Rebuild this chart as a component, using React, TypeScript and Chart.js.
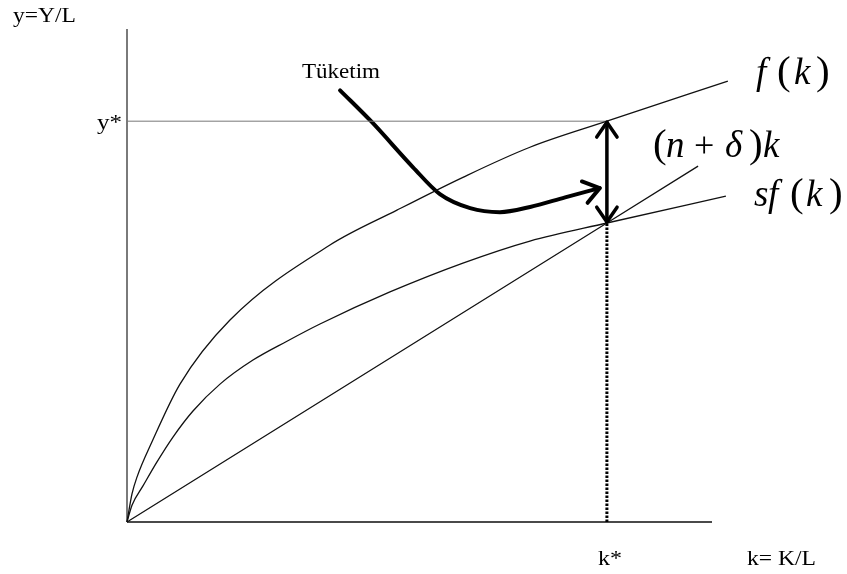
import React, { useEffect, useRef } from "react";
import { Chart, registerables } from "chart.js";

Chart.register(...registerables);

// Solow model: capital per worker k = K/L, output per worker y = Y/L (steady state k* = 10, y* = 10)
const kOutput = [0, 0.104, 0.208, 0.521, 1.104, 2.146, 4.229, 5.625, 7.0, 8.396, 10.0, 12.52];
const yOutput = [0, 0.7, 1.12, 2.0, 3.44, 5.04, 6.91, 7.78, 8.6, 9.35, 10.0, 11.0];

const kSaving = [0, 0.104, 0.333, 0.625, 0.958, 1.375, 1.938, 2.625, 3.333, 4.021, 5.479, 7.0, 8.396, 10.0, 12.479];
const ySaving = [0, 0.42, 0.9, 1.5, 2.12, 2.77, 3.44, 4.04, 4.51, 4.94, 5.74, 6.46, 7.01, 7.46, 8.13];

const kBreakEven = [0, 10, 11.9];
const yBreakEven = [0, 7.46, 8.88];

const kStar = 10;
const yStar = 10;
const investStar = 7.46;

// curved pointer from the "Tüketim" label to the consumption gap
const kPointer = [4.44, 5.1, 5.96, 6.52, 7.15, 7.77, 8.4, 9.13, 9.85];
const yPointer = [10.77, 9.98, 8.85, 8.18, 7.83, 7.73, 7.86, 8.1, 8.33];

const kMax = 12.19;
const yMax = 12.3;

const yAxisTitle = "y=Y/L";
const xAxisTitle = "k= K/L";
const yStarLabel = "y*";
const kStarLabel = "k*";
const pointerLabel = "Tüketim";

const pts = (xs: number[], ys: number[]) => xs.map((x, i) => ({ x, y: ys[i] }));

const SERIF = `"Liberation Serif", "Times New Roman", Times, serif`;

function fitText(ctx: CanvasRenderingContext2D, s: string, x: number, y: number, font: string, w: number) {
  ctx.font = font;
  const m = ctx.measureText(s).width;
  ctx.save();
  ctx.translate(x, y);
  ctx.scale(w / m, 1);
  ctx.fillText(s, 0, 0);
  ctx.restore();
}

function arrowHead(ctx: CanvasRenderingContext2D, tx: number, ty: number, angle: number, len: number, spread: number) {
  ctx.beginPath();
  ctx.moveTo(tx - len * Math.cos(angle - spread), ty - len * Math.sin(angle - spread));
  ctx.lineTo(tx, ty);
  ctx.lineTo(tx - len * Math.cos(angle + spread), ty - len * Math.sin(angle + spread));
  ctx.stroke();
}

const diagramPlugin = {
  id: "solowDiagram",
  beforeDatasetsDraw(chart: any) {
    const { ctx, chartArea } = chart;
    ctx.save();
    ctx.lineCap = "butt";
    // vertical axis
    ctx.strokeStyle = "#7a7a7a";
    ctx.lineWidth = 2;
    ctx.beginPath();
    ctx.moveTo(chartArea.left, chartArea.top);
    ctx.lineTo(chartArea.left, chartArea.bottom);
    ctx.stroke();
    // horizontal axis
    ctx.strokeStyle = "#4a4a4a";
    ctx.beginPath();
    ctx.moveTo(chartArea.left, chartArea.bottom);
    ctx.lineTo(chartArea.right, chartArea.bottom);
    ctx.stroke();
    ctx.restore();
  },
  afterDatasetsDraw(chart: any) {
    const { ctx, scales, chartArea } = chart;
    const xs = scales.x;
    const ys = scales.y;
    ctx.save();
    ctx.strokeStyle = "#000";
    ctx.fillStyle = "#000";
    ctx.lineCap = "round";
    ctx.lineJoin = "round";

    // heads of the consumption gap arrow
    const gx = xs.getPixelForValue(kStar);
    const gTop = ys.getPixelForValue(yStar);
    const gBot = ys.getPixelForValue(investStar);
    ctx.lineWidth = 3.5;
    arrowHead(ctx, gx, gTop + 1, -Math.PI / 2, 18, 0.6);
    arrowHead(ctx, gx, gBot - 1, Math.PI / 2, 18, 0.6);

    // head of the curved pointer
    const n = kPointer.length;
    const px1 = xs.getPixelForValue(kPointer[n - 2]);
    const py1 = ys.getPixelForValue(yPointer[n - 2]);
    const px2 = xs.getPixelForValue(kPointer[n - 1]);
    const py2 = ys.getPixelForValue(yPointer[n - 1]);
    ctx.lineWidth = 4;
    arrowHead(ctx, px2, py2, Math.atan2(py2 - py1, px2 - px1), 19, 0.62);

    // axis titles and steady-state labels
    ctx.textBaseline = "alphabetic";
    const plain = `22px ${SERIF}`;
    fitText(ctx, yAxisTitle, 13, 22, plain, 63);
    fitText(ctx, xAxisTitle, 747, chartArea.bottom + 43, plain, 69);
    fitText(ctx, yStarLabel, chartArea.left - 30, gTop + 8, plain, 25);
    fitText(ctx, kStarLabel, gx - 9, chartArea.bottom + 43, plain, 24);
    fitText(ctx, pointerLabel, 302, 78, plain, 78);

    // curve labels, set piece by piece like a formula
    const ital = `italic 37px ${SERIF}`;
    const par = `41px ${SERIF}`;
    const up = `36px ${SERIF}`;
    const pieces: [string, number, number, string][] = [
      ["f", 756, 84, ital],
      ["(", 777, 84, par],
      ["k", 794, 84, ital],
      [")", 816, 84, par],
      ["(", 653, 157, par],
      ["n", 666, 157, ital],
      ["+", 694, 157, up],
      ["δ", 725, 157, ital],
      [")", 749, 157, par],
      ["k", 763, 157, ital],
      ["s", 754, 206, ital],
      ["f", 768, 206, ital],
      ["(", 790, 206, par],
      ["k", 806, 206, ital],
      [")", 829, 206, par],
    ];
    for (const [s, x, y, f] of pieces) {
      ctx.font = f;
      ctx.fillText(s, x, y);
    }
    ctx.restore();
  },
};

export default function App() {
  const ref = useRef<HTMLCanvasElement | null>(null);

  useEffect(() => {
    let chart: Chart | null = null;
    let cancelled = false;
    const thin = { pointRadius: 0, fill: false, clip: false as any };

    const build = () => {
      if (cancelled || !ref.current) return;
      chart = new Chart(ref.current, {
        type: "line",
        data: {
          datasets: [
            {
              label: "f(k)",
              data: pts(kOutput, yOutput),
              borderColor: "#111",
              borderWidth: 1.3,
              cubicInterpolationMode: "monotone",
              ...thin,
            },
            {
              label: "sf(k)",
              data: pts(kSaving, ySaving),
              borderColor: "#111",
              borderWidth: 1.3,
              cubicInterpolationMode: "monotone",
              ...thin,
            },
            {
              label: "(n+δ)k",
              data: pts(kBreakEven, yBreakEven),
              borderColor: "#111",
              borderWidth: 1.3,
              tension: 0,
              ...thin,
            },
            {
              label: "y*",
              data: [
                { x: 0, y: yStar },
                { x: kStar, y: yStar },
              ],
              borderColor: "#777",
              borderWidth: 1,
              tension: 0,
              ...thin,
            },
            {
              label: "k*",
              data: [
                { x: kStar, y: 0 },
                { x: kStar, y: investStar },
              ],
              borderColor: "#000",
              borderWidth: 3,
              borderDash: [2.5, 1.5],
              tension: 0,
              ...thin,
            },
            {
              label: "gap",
              data: [
                { x: kStar, y: yStar },
                { x: kStar, y: investStar },
              ],
              borderColor: "#000",
              borderWidth: 3.5,
              tension: 0,
              ...thin,
            },
            {
              label: "Tüketim",
              data: pts(kPointer, yPointer),
              borderColor: "#000",
              borderWidth: 4,
              borderCapStyle: "round",
              cubicInterpolationMode: "monotone",
              ...thin,
            },
          ],
        },
        options: {
          animation: false,
          responsive: false,
          layout: { padding: { left: 127, right: 135, top: 29, bottom: 52 } },
          scales: {
            x: { type: "linear", min: 0, max: kMax, display: false },
            y: { type: "linear", min: 0, max: yMax, display: false },
          },
          plugins: { legend: { display: false }, tooltip: { enabled: false } },
          events: [],
        },
        plugins: [diagramPlugin],
      });
    };

    const fonts = (document as any).fonts;
    if (fonts && fonts.load) {
      Promise.all([
        fonts.load(`22px "Liberation Serif"`),
        fonts.load(`italic 32px "Liberation Serif"`),
      ])
        .catch(() => undefined)
        .then(build);
    } else {
      build();
    }

    return () => {
      cancelled = true;
      if (chart) chart.destroy();
    };
  }, []);

  return (
    <div style={{ position: "absolute", left: 0, top: 0, width: 847, height: 574, background: "#fff" }}>
      <canvas ref={ref} width={847} height={574} style={{ display: "block" }} />
    </div>
  );
}
